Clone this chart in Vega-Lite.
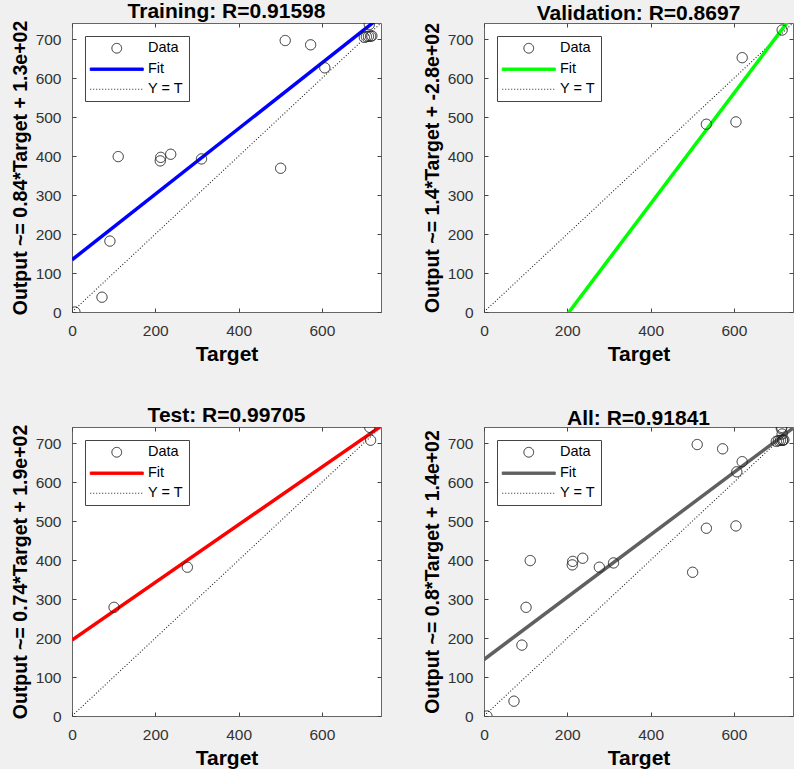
{
  "$schema": "https://vega.github.io/schema/vega-lite/v6.json",
  "background": "#f0f0f0",
  "padding": {"left": 10, "top": 0, "right": 0, "bottom": 0},
  "bounds": "flush",
  "columns": 2,
  "spacing": {"row": 115, "column": 103},
  "resolve": {
    "scale": {"fill": "independent", "stroke": "independent", "shape": "independent", "strokeDash": "independent"},
    "legend": {"fill": "independent", "stroke": "independent", "shape": "independent", "strokeDash": "independent"}
  },
  "datasets": {
    "pts": [
      {"panel": "Training", "series": "Data", "target": 7, "output": 0},
      {"panel": "Training", "series": "Data", "target": 72, "output": 38},
      {"panel": "Training", "series": "Data", "target": 91, "output": 182},
      {"panel": "Training", "series": "Data", "target": 111, "output": 399},
      {"panel": "Training", "series": "Data", "target": 212, "output": 388},
      {"panel": "Training", "series": "Data", "target": 213, "output": 397},
      {"panel": "Training", "series": "Data", "target": 237, "output": 405},
      {"panel": "Training", "series": "Data", "target": 311, "output": 393},
      {"panel": "Training", "series": "Data", "target": 501, "output": 369},
      {"panel": "Training", "series": "Data", "target": 512, "output": 697},
      {"panel": "Training", "series": "Data", "target": 573, "output": 686},
      {"panel": "Training", "series": "Data", "target": 607, "output": 627},
      {"panel": "Training", "series": "Data", "target": 714, "output": 738},
      {"panel": "Training", "series": "Data", "target": 702, "output": 705},
      {"panel": "Training", "series": "Data", "target": 707, "output": 707},
      {"panel": "Training", "series": "Data", "target": 712, "output": 708},
      {"panel": "Training", "series": "Data", "target": 717, "output": 708},
      {"panel": "Training", "series": "Data", "target": 720, "output": 709},
      {"panel": "Validation", "series": "Data", "target": 534, "output": 482},
      {"panel": "Validation", "series": "Data", "target": 605, "output": 488},
      {"panel": "Validation", "series": "Data", "target": 620, "output": 653},
      {"panel": "Validation", "series": "Data", "target": 716, "output": 724},
      {"panel": "Test", "series": "Data", "target": 101, "output": 279},
      {"panel": "Test", "series": "Data", "target": 277, "output": 382},
      {"panel": "Test", "series": "Data", "target": 715, "output": 741},
      {"panel": "Test", "series": "Data", "target": 717, "output": 708},
      {"panel": "All", "series": "Data", "target": 7, "output": 0},
      {"panel": "All", "series": "Data", "target": 72, "output": 38},
      {"panel": "All", "series": "Data", "target": 91, "output": 182},
      {"panel": "All", "series": "Data", "target": 111, "output": 399},
      {"panel": "All", "series": "Data", "target": 212, "output": 388},
      {"panel": "All", "series": "Data", "target": 213, "output": 397},
      {"panel": "All", "series": "Data", "target": 237, "output": 405},
      {"panel": "All", "series": "Data", "target": 311, "output": 393},
      {"panel": "All", "series": "Data", "target": 501, "output": 369},
      {"panel": "All", "series": "Data", "target": 512, "output": 697},
      {"panel": "All", "series": "Data", "target": 573, "output": 686},
      {"panel": "All", "series": "Data", "target": 607, "output": 627},
      {"panel": "All", "series": "Data", "target": 714, "output": 738},
      {"panel": "All", "series": "Data", "target": 702, "output": 705},
      {"panel": "All", "series": "Data", "target": 707, "output": 707},
      {"panel": "All", "series": "Data", "target": 712, "output": 708},
      {"panel": "All", "series": "Data", "target": 717, "output": 708},
      {"panel": "All", "series": "Data", "target": 720, "output": 709},
      {"panel": "All", "series": "Data", "target": 534, "output": 482},
      {"panel": "All", "series": "Data", "target": 605, "output": 488},
      {"panel": "All", "series": "Data", "target": 620, "output": 653},
      {"panel": "All", "series": "Data", "target": 716, "output": 724},
      {"panel": "All", "series": "Data", "target": 101, "output": 279},
      {"panel": "All", "series": "Data", "target": 277, "output": 382},
      {"panel": "All", "series": "Data", "target": 715, "output": 741},
      {"panel": "All", "series": "Data", "target": 717, "output": 708}
    ],
    "lines": [
      {"panel": "Training", "kind": "Fit", "target": 0, "output": 134},
      {"panel": "Training", "kind": "Fit", "target": 742, "output": 759},
      {"panel": "Training", "kind": "YT", "target": 0, "output": 0},
      {"panel": "Training", "kind": "YT", "target": 742, "output": 742},
      {"panel": "Validation", "kind": "Fit", "target": 0, "output": -290},
      {"panel": "Validation", "kind": "Fit", "target": 742, "output": 763},
      {"panel": "Validation", "kind": "YT", "target": 0, "output": 0},
      {"panel": "Validation", "kind": "YT", "target": 742, "output": 742},
      {"panel": "Test", "kind": "Fit", "target": 0, "output": 195},
      {"panel": "Test", "kind": "Fit", "target": 742, "output": 744},
      {"panel": "Test", "kind": "YT", "target": 0, "output": 0},
      {"panel": "Test", "kind": "YT", "target": 742, "output": 742},
      {"panel": "All", "kind": "Fit", "target": 0, "output": 145},
      {"panel": "All", "kind": "Fit", "target": 742, "output": 739},
      {"panel": "All", "kind": "YT", "target": 0, "output": 0},
      {"panel": "All", "kind": "YT", "target": 742, "output": 742}
    ]
  },
  "concat": [
    {
      "title": "Training: R=0.91598",
      "width": 309, "height": 289,
      "layer": [
        {
          "data": {"name": "lines"},
          "transform": [{"filter": "datum.panel === 'Training' && datum.kind === 'YT'"}],
          "mark": {"type": "line", "clip": true, "color": "#222222", "strokeWidth": 1.1, "strokeDash": [1, 2]},
          "encoding": {
            "x": {"field": "target", "type": "quantitative", "scale": {"domain": [0, 742], "nice": false, "zero": false}, "axis": {"orient": "top", "labels": false, "title": null, "values": [0, 200, 400, 600]}},
            "y": {"field": "output", "type": "quantitative", "scale": {"domain": [0, 742], "nice": false, "zero": false}, "axis": {"orient": "right", "labels": false, "title": null, "values": [0, 100, 200, 300, 400, 500, 600, 700]}}
          }
        },
        {
          "data": {"name": "lines"},
          "transform": [{"filter": "datum.panel === 'Training' && datum.kind === 'Fit'"}],
          "mark": {"type": "line", "clip": true, "color": "#0000ff", "strokeWidth": 3.5},
          "encoding": {
            "x": {"field": "target", "type": "quantitative", "axis": {"orient": "bottom", "title": "Target", "values": [0, 200, 400, 600]}},
            "y": {"field": "output", "type": "quantitative", "axis": {"orient": "left", "title": "Output ~= 0.84*Target + 1.3e+02", "values": [0, 100, 200, 300, 400, 500, 600, 700]}}
          }
        },
        {
          "data": {"name": "pts"},
          "transform": [{"filter": "datum.panel === 'Training'"}],
          "mark": {"type": "point", "size": 105, "strokeWidth": 1, "opacity": 1, "clip": true},
          "encoding": {
            "x": {"field": "target", "type": "quantitative", "axis": null},
            "y": {"field": "output", "type": "quantitative", "axis": null},
            "fill": {"field": "series", "type": "nominal", "scale": {"domain": ["Data", "Fit", "Y = T"], "range": ["transparent", "#0000ff", "transparent"]}, "legend": {"title": null}},
            "stroke": {"field": "series", "type": "nominal", "scale": {"domain": ["Data", "Fit", "Y = T"], "range": ["#222222", "#0000ff", "#222222"]}, "legend": {"title": null}},
            "shape": {"field": "series", "type": "nominal", "scale": {"domain": ["Data", "Fit", "Y = T"], "range": ["circle", "M-5.44,-0.26L5.44,-0.26L5.44,0.26L-5.44,0.26Z", "M-5.44,0L5.44,0"]}, "legend": {"title": null}},
            "strokeDash": {"field": "series", "type": "nominal", "scale": {"domain": ["Data", "Fit", "Y = T"], "range": [[1, 0], [1, 0], [1, 2]]}, "legend": {"title": null}}
          }
        }
      ]
    },
    {
      "title": "Validation: R=0.8697",
      "width": 309, "height": 289,
      "layer": [
        {
          "data": {"name": "lines"},
          "transform": [{"filter": "datum.panel === 'Validation' && datum.kind === 'YT'"}],
          "mark": {"type": "line", "clip": true, "color": "#222222", "strokeWidth": 1.1, "strokeDash": [1, 2]},
          "encoding": {
            "x": {"field": "target", "type": "quantitative", "scale": {"domain": [0, 742], "nice": false, "zero": false}, "axis": {"orient": "top", "labels": false, "title": null, "values": [0, 200, 400, 600]}},
            "y": {"field": "output", "type": "quantitative", "scale": {"domain": [0, 742], "nice": false, "zero": false}, "axis": {"orient": "right", "labels": false, "title": null, "values": [0, 100, 200, 300, 400, 500, 600, 700]}}
          }
        },
        {
          "data": {"name": "lines"},
          "transform": [{"filter": "datum.panel === 'Validation' && datum.kind === 'Fit'"}],
          "mark": {"type": "line", "clip": true, "color": "#00ff00", "strokeWidth": 3.5},
          "encoding": {
            "x": {"field": "target", "type": "quantitative", "axis": {"orient": "bottom", "title": "Target", "values": [0, 200, 400, 600]}},
            "y": {"field": "output", "type": "quantitative", "axis": {"orient": "left", "title": "Output ~= 1.4*Target + -2.8e+02", "values": [0, 100, 200, 300, 400, 500, 600, 700]}}
          }
        },
        {
          "data": {"name": "pts"},
          "transform": [{"filter": "datum.panel === 'Validation'"}],
          "mark": {"type": "point", "size": 105, "strokeWidth": 1, "opacity": 1, "clip": true},
          "encoding": {
            "x": {"field": "target", "type": "quantitative", "axis": null},
            "y": {"field": "output", "type": "quantitative", "axis": null},
            "fill": {"field": "series", "type": "nominal", "scale": {"domain": ["Data", "Fit", "Y = T"], "range": ["transparent", "#00ff00", "transparent"]}, "legend": {"title": null}},
            "stroke": {"field": "series", "type": "nominal", "scale": {"domain": ["Data", "Fit", "Y = T"], "range": ["#222222", "#00ff00", "#222222"]}, "legend": {"title": null}},
            "shape": {"field": "series", "type": "nominal", "scale": {"domain": ["Data", "Fit", "Y = T"], "range": ["circle", "M-5.44,-0.26L5.44,-0.26L5.44,0.26L-5.44,0.26Z", "M-5.44,0L5.44,0"]}, "legend": {"title": null}},
            "strokeDash": {"field": "series", "type": "nominal", "scale": {"domain": ["Data", "Fit", "Y = T"], "range": [[1, 0], [1, 0], [1, 2]]}, "legend": {"title": null}}
          }
        }
      ]
    },
    {
      "title": "Test: R=0.99705",
      "width": 309, "height": 289,
      "layer": [
        {
          "data": {"name": "lines"},
          "transform": [{"filter": "datum.panel === 'Test' && datum.kind === 'YT'"}],
          "mark": {"type": "line", "clip": true, "color": "#222222", "strokeWidth": 1.1, "strokeDash": [1, 2]},
          "encoding": {
            "x": {"field": "target", "type": "quantitative", "scale": {"domain": [0, 742], "nice": false, "zero": false}, "axis": {"orient": "top", "labels": false, "title": null, "values": [0, 200, 400, 600]}},
            "y": {"field": "output", "type": "quantitative", "scale": {"domain": [0, 742], "nice": false, "zero": false}, "axis": {"orient": "right", "labels": false, "title": null, "values": [0, 100, 200, 300, 400, 500, 600, 700]}}
          }
        },
        {
          "data": {"name": "lines"},
          "transform": [{"filter": "datum.panel === 'Test' && datum.kind === 'Fit'"}],
          "mark": {"type": "line", "clip": true, "color": "#ff0000", "strokeWidth": 3.5},
          "encoding": {
            "x": {"field": "target", "type": "quantitative", "axis": {"orient": "bottom", "title": "Target", "values": [0, 200, 400, 600]}},
            "y": {"field": "output", "type": "quantitative", "axis": {"orient": "left", "title": "Output ~= 0.74*Target + 1.9e+02", "values": [0, 100, 200, 300, 400, 500, 600, 700]}}
          }
        },
        {
          "data": {"name": "pts"},
          "transform": [{"filter": "datum.panel === 'Test'"}],
          "mark": {"type": "point", "size": 105, "strokeWidth": 1, "opacity": 1, "clip": true},
          "encoding": {
            "x": {"field": "target", "type": "quantitative", "axis": null},
            "y": {"field": "output", "type": "quantitative", "axis": null},
            "fill": {"field": "series", "type": "nominal", "scale": {"domain": ["Data", "Fit", "Y = T"], "range": ["transparent", "#ff0000", "transparent"]}, "legend": {"title": null}},
            "stroke": {"field": "series", "type": "nominal", "scale": {"domain": ["Data", "Fit", "Y = T"], "range": ["#222222", "#ff0000", "#222222"]}, "legend": {"title": null}},
            "shape": {"field": "series", "type": "nominal", "scale": {"domain": ["Data", "Fit", "Y = T"], "range": ["circle", "M-5.44,-0.26L5.44,-0.26L5.44,0.26L-5.44,0.26Z", "M-5.44,0L5.44,0"]}, "legend": {"title": null}},
            "strokeDash": {"field": "series", "type": "nominal", "scale": {"domain": ["Data", "Fit", "Y = T"], "range": [[1, 0], [1, 0], [1, 2]]}, "legend": {"title": null}}
          }
        }
      ]
    },
    {
      "title": "All: R=0.91841",
      "width": 309, "height": 289,
      "layer": [
        {
          "data": {"name": "lines"},
          "transform": [{"filter": "datum.panel === 'All' && datum.kind === 'YT'"}],
          "mark": {"type": "line", "clip": true, "color": "#222222", "strokeWidth": 1.1, "strokeDash": [1, 2]},
          "encoding": {
            "x": {"field": "target", "type": "quantitative", "scale": {"domain": [0, 742], "nice": false, "zero": false}, "axis": {"orient": "top", "labels": false, "title": null, "values": [0, 200, 400, 600]}},
            "y": {"field": "output", "type": "quantitative", "scale": {"domain": [0, 742], "nice": false, "zero": false}, "axis": {"orient": "right", "labels": false, "title": null, "values": [0, 100, 200, 300, 400, 500, 600, 700]}}
          }
        },
        {
          "data": {"name": "lines"},
          "transform": [{"filter": "datum.panel === 'All' && datum.kind === 'Fit'"}],
          "mark": {"type": "line", "clip": true, "color": "#606060", "strokeWidth": 3.5},
          "encoding": {
            "x": {"field": "target", "type": "quantitative", "axis": {"orient": "bottom", "title": "Target", "values": [0, 200, 400, 600]}},
            "y": {"field": "output", "type": "quantitative", "axis": {"orient": "left", "title": "Output ~= 0.8*Target + 1.4e+02", "values": [0, 100, 200, 300, 400, 500, 600, 700]}}
          }
        },
        {
          "data": {"name": "pts"},
          "transform": [{"filter": "datum.panel === 'All'"}],
          "mark": {"type": "point", "size": 105, "strokeWidth": 1, "opacity": 1, "clip": true},
          "encoding": {
            "x": {"field": "target", "type": "quantitative", "axis": null},
            "y": {"field": "output", "type": "quantitative", "axis": null},
            "fill": {"field": "series", "type": "nominal", "scale": {"domain": ["Data", "Fit", "Y = T"], "range": ["transparent", "#606060", "transparent"]}, "legend": {"title": null}},
            "stroke": {"field": "series", "type": "nominal", "scale": {"domain": ["Data", "Fit", "Y = T"], "range": ["#222222", "#606060", "#222222"]}, "legend": {"title": null}},
            "shape": {"field": "series", "type": "nominal", "scale": {"domain": ["Data", "Fit", "Y = T"], "range": ["circle", "M-5.44,-0.26L5.44,-0.26L5.44,0.26L-5.44,0.26Z", "M-5.44,0L5.44,0"]}, "legend": {"title": null}},
            "strokeDash": {"field": "series", "type": "nominal", "scale": {"domain": ["Data", "Fit", "Y = T"], "range": [[1, 0], [1, 0], [1, 2]]}, "legend": {"title": null}}
          }
        }
      ]
    }
  ],
  "config": {
    "font": "Liberation Sans",
    "view": {"fill": "white", "stroke": "#666666", "strokeWidth": 1},
    "title": {"fontSize": 21, "fontWeight": "bold", "color": "black", "offset": -2, "font": "Liberation Sans"},
    "axis": {
      "grid": false, "domain": false, "tickSize": -4, "tickColor": "#444444", "tickWidth": 1,
      "labelFontSize": 15.5, "labelColor": "#333333", "labelFont": "Liberation Sans", "labelFlush": false, "labelOverlap": false,
      "titleFontWeight": "bold", "titleColor": "black", "titleFont": "Liberation Sans"
    },
    "axisX": {"labelPadding": 15, "titlePadding": 5, "titleFontSize": 21},
    "axisY": {"labelPadding": 15, "titlePadding": 4.5, "titleFontSize": 19.5},
    "legend": {
      "orient": "top-left", "offset": 13, "padding": 5, "strokeColor": "#444444", "fillColor": "white",
      "labelFontSize": 14.5, "labelColor": "black", "labelFont": "Liberation Sans",
      "symbolSize": 95, "symbolStrokeWidth": 1, "symbolOffset": 19.5, "labelOffset": 24, "rowPadding": 5
    }
  }
}
